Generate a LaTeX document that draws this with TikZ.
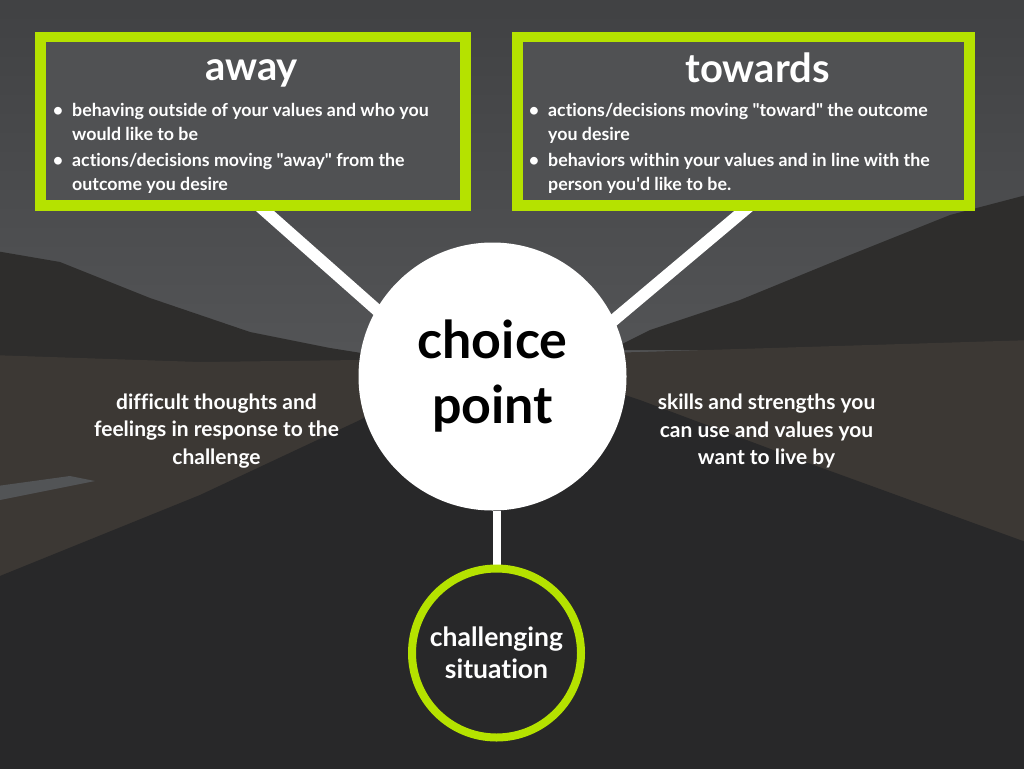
\documentclass[tikz,border=0pt]{standalone}
\usepackage{fontspec}
\setmainfont{Lato}[Ligatures=NoCommon]
\usetikzlibrary{positioning,backgrounds}

\definecolor{limegreen}{RGB}{181,226,0}
\definecolor{boxgray}{RGB}{80,81,83}
\definecolor{skytop}{RGB}{64,65,67}
\definecolor{skylow}{RGB}{84,85,87}
\definecolor{ridge}{RGB}{46,45,44}
\definecolor{ground}{RGB}{60,56,52}
\definecolor{asphalt}{RGB}{40,40,41}
\definecolor{water}{RGB}{82,84,86}

\tikzset{
  choicebox/.style={draw=limegreen, line width=10.5pt, fill=boxgray,
    minimum height=168.5pt, inner sep=0pt},
  boxtitle/.style={text=white, font=\fontsize{40}{40}\selectfont\bfseries,
    inner sep=0pt, anchor=base},
  bulletitem/.style={text=white, font=\fontsize{17.8}{24}\selectfont\bfseries,
    align=left, inner sep=0pt},
  sidenote/.style={text=white, font=\fontsize{21}{27.5}\selectfont\bfseries,
    align=center, inner sep=0pt},
  spoke/.style={draw=white, line width=12pt, shorten >=-14pt, shorten <=-8pt},
}
\newcommand{\itembullet}{\strut\llap{\textbullet\hspace{9pt}}}

\begin{document}
\begin{tikzpicture}[x=1pt, y=-1pt]
  \useasboundingbox (0,0) rectangle (1024,768);

  % road scene behind everything
  \begin{scope}[on background layer]
    \fill[top color=skytop, bottom color=skylow] (-10,-10) rectangle (1034,370);
    \fill[ridge] (-10,250) -- (60,262) -- (150,298) -- (250,332) -- (330,348)
      -- (380,356) -- (380,780) -- (-10,780) -- cycle;
    \fill[ridge] (1034,193) -- (950,215) -- (850,255) -- (740,300) -- (650,330)
      -- (610,350) -- (1034,350) -- cycle;
    \fill[ground] (-10,355) -- (200,362) -- (360,360) -- (640,352) -- (1034,340)
      -- (1034,780) -- (-10,780) -- cycle;
    \fill[asphalt] (455,365) -- (535,365) -- (640,400) -- (800,460) -- (1034,545)
      -- (1034,780) -- (-10,780) -- (-10,580) -- (200,495) -- (360,420) -- cycle;
    \fill[water] (-10,487) -- (70,476) -- (95,481) -- (-10,502) -- cycle;
  \end{scope}

  % the two outcome boxes
  \node[choicebox, minimum width=425pt] (awaybox) at (253,121.25) {};
  \node[choicebox, minimum width=452pt] (towardsbox) at (743.5,121.25) {};
  \node[boxtitle] (awaytitle) at (251.5,80) {away};
  \node[boxtitle] (towardstitle) at (757.5,82) {towards};

  \node[bulletitem, anchor=north west] (awayA) at (72,99.2)
    {\itembullet behaving outside of your values and who you\\would like to be\strut};
  \node[bulletitem, below=2pt of awayA.south west, anchor=north west] (awayB)
    {\itembullet actions/decisions moving \textquotedbl away\textquotedbl{} from the\\outcome you desire\strut};
  \node[bulletitem, anchor=north west] (towardsA) at (548,99.2)
    {\itembullet actions/decisions moving \textquotedbl toward\textquotedbl{} the outcome\\you desire\strut};
  \node[bulletitem, below=2pt of towardsA.south west, anchor=north west] (towardsB)
    {\itembullet behaviors within your values and in line with the\\person you\textquotesingle d like to be.\strut};

  % centre and the situation below it
  \node[circle, fill=white, minimum size=268pt, inner sep=0pt, align=center,
    font=\fontsize{52}{65}\selectfont\bfseries] (choice) at (492.5,376.5) {choice\\point};
  \node[circle, draw=limegreen, line width=8pt, minimum size=169pt, inner sep=0pt,
    align=center, text=white, font=\fontsize{26.5}{32}\selectfont\bfseries]
    (situation) at (496.5,653) {challenging\\situation};

  \node[sidenote] (hardnote) at (216.5,431)
    {difficult thoughts and\\feelings in response to the\\challenge};
  \node[sidenote] (skillnote) at (766.5,431)
    {skills and strengths you\\can use and values you\\want to live by};

  \coordinate (awayfoot) at (265,211);
  \coordinate (towardsfoot) at (743.5,211);
  \begin{scope}[on background layer]
    \draw[spoke] (awayfoot) -- (choice.150);
    \draw[spoke] (towardsfoot) -- (choice.25);
    \draw[draw=white, line width=8pt] (situation.north) -- (situation.north |- choice.south);
  \end{scope}
\end{tikzpicture}
\end{document}
